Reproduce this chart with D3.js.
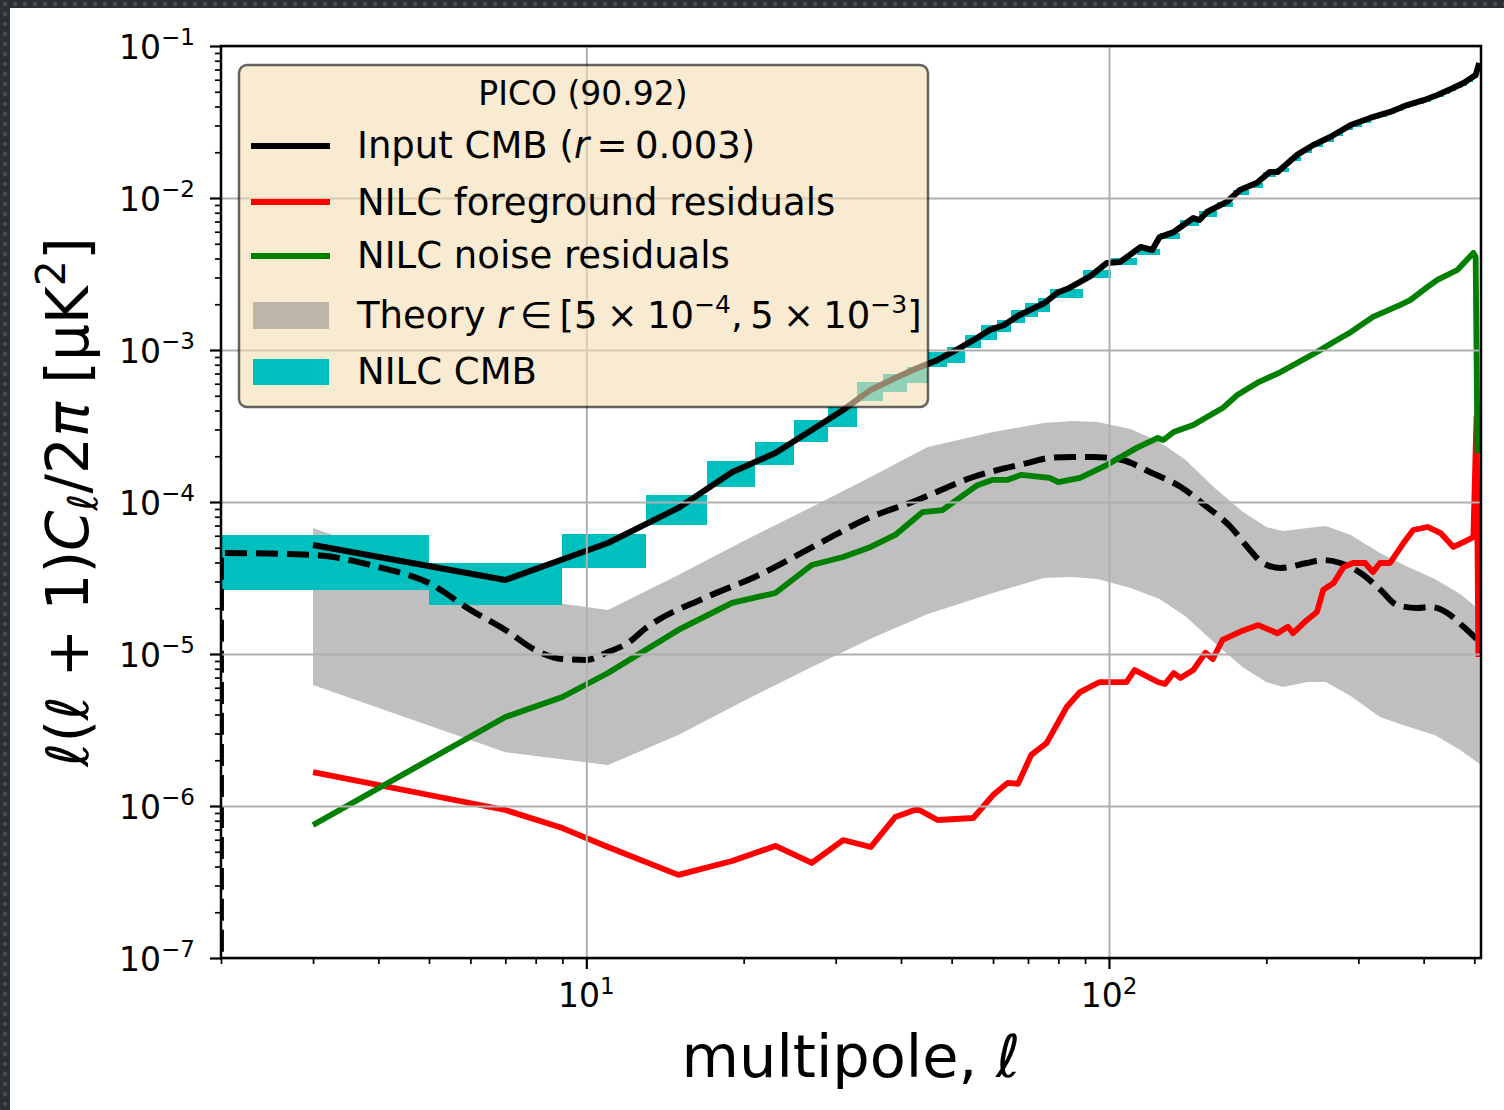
<!DOCTYPE html>
<html><head><meta charset="utf-8">
<script src="https://cdn.jsdelivr.net/npm/d3@7"></script>
<style>
html,body{margin:0;padding:0;background:#fff;}
svg{display:block;}
text{font-family:"DejaVu Sans",sans-serif;white-space:pre;}
</style></head><body>
<svg id="chart" width="1504" height="1110"></svg>
<script>
// ---------------- data ----------------
const cmbInputEll = [3,7,11,15,19,23,27,31,35,39,43,47,51,55,59,63,67,71,75,80,84,92,99,105,115,121,125,133,145,149,154,168,178,192,203,210,229,246,265,290,316,345,372,400,425,450,477,503,511];
const cmbInputVal = [5.21e-5,3.07e-5,5.37e-5,9.14e-5,1.57e-4,2.10e-4,2.98e-4,4.03e-4,5.46e-4,6.55e-4,7.6e-4,8.6e-4,1.0e-3,1.16e-3,1.35e-3,1.46e-3,1.68e-3,1.85e-3,2.02e-3,2.40e-3,2.56e-3,3.05e-3,3.73e-3,3.79e-3,4.76e-3,4.55e-3,5.53e-3,5.97e-3,7.38e-3,7.16e-3,8.09e-3,9.42e-3,1.13e-2,1.26e-2,1.48e-2,1.48e-2,1.92e-2,2.23e-2,2.52e-2,3.02e-2,3.36e-2,3.68e-2,4.09e-2,4.40e-2,4.76e-2,5.2e-2,5.71e-2,6.44e-2,7.73e-2];

const nilcEdges = [2,5,9,13,17,21,25,29,33,37,41,45,49,53,57,61,65,69,73,77,89,101,113,125,137,149,161,173,185,197,209,221,233,245,257,269,281,293,305,317,329,341,353,365,377,389,401,413,425,437,449,461,473,485,497,509];
const nilcLo = [2.64e-5,2.10e-5,3.68e-5,7.06e-5,1.26e-4,1.75e-4,2.48e-4,3.11e-4,4.61e-4,5.30e-4,6.07e-4,7.73e-4,8.2e-4,1.03e-3,1.16e-3,1.31e-3,1.51e-3,1.65e-3,1.78e-3,
  2.20e-3,2.97e-3,3.62e-3,4.21e-3,5.37e-3,6.54e-3,7.49e-3,8.70e-3,1.045e-2,1.161e-2,1.372e-2,1.480e-2,1.750e-2,1.975e-2,2.163e-2,2.332e-2,2.555e-2,2.798e-2,2.928e-2,3.110e-2,3.300e-2,3.400e-2,3.560e-2,3.725e-2,3.900e-2,4.020e-2,4.145e-2,4.270e-2,4.47e-2,4.60e-2,4.82e-2,5.04e-2,5.28e-2,5.44e-2,5.79e-2,6.14e-2];
const nilcHi = [6.07e-5,3.97e-5,6.15e-5,1.11e-4,1.86e-4,2.48e-4,3.46e-4,4.22e-4,6.15e-4,6.95e-4,7.73e-4,9.70e-4,1.05e-3,1.26e-3,1.46e-3,1.57e-3,1.83e-3,2.04e-3,2.20e-3,
  2.52e-3,3.36e-3,4.03e-3,4.60e-3,5.88e-3,7.17e-3,8.21e-3,9.41e-3,1.129e-2,1.255e-2,1.483e-2,1.575e-2,1.861e-2,2.101e-2,2.301e-2,2.481e-2,2.718e-2,2.977e-2,3.115e-2,3.309e-2,3.463e-2,3.569e-2,3.736e-2,3.909e-2,4.091e-2,4.217e-2,4.347e-2,4.480e-2,4.69e-2,4.83e-2,5.056e-2,5.29e-2,5.54e-2,5.71e-2,6.07e-2,6.44e-2];

const bandEll = [3,7,11,15,20,27,35,45,60,75,85,95,110,125,140,160,180,200,215,240,260,290,330,370,420,470,512];
const bandHi = [6.75e-5,2.41e-5,1.95e-5,3.31e-5,5.54e-5,9.27e-5,1.46e-4,2.30e-4,2.89e-4,3.31e-4,3.41e-4,3.36e-4,3.02e-4,2.48e-4,1.90e-4,1.22e-4,8.66e-5,6.85e-5,6.44e-5,6.75e-5,6.95e-5,6.07e-5,4.62e-5,3.79e-5,3.11e-5,2.48e-5,1.95e-5];
const bandLo = [6.25e-6,2.26e-6,1.86e-6,2.93e-6,4.91e-6,8.21e-6,1.26e-5,1.83e-5,2.52e-5,3.16e-5,3.21e-5,3.11e-5,2.72e-5,2.30e-5,1.77e-5,1.17e-5,8.21e-6,6.54e-6,6.07e-6,6.54e-6,6.54e-6,5.29e-6,3.85e-6,3.36e-6,2.93e-6,2.34e-6,1.89e-6];

const theoryEll = [1.999,2,3,4,5,6,7,8,9,10,11,12,13,17,21,28,34,43,55,70,77,85,93,106,120,137,154,171,184,197,213,239,257,277,303,331,356,389,412,444,477,507];
const theoryVal = [1e-9,4.62e-5,4.48e-5,3.73e-5,2.93e-5,1.95e-5,1.44e-5,1.06e-5,9.27e-6,9.14e-6,1.03e-5,1.18e-5,1.48e-5,2.37e-5,3.21e-5,5.37e-5,7.62e-5,1.03e-4,1.46e-4,1.81e-4,1.95e-4,1.98e-4,1.98e-4,1.89e-4,1.57e-4,1.26e-4,9.27e-5,6.85e-5,5.06e-5,3.97e-5,3.68e-5,3.97e-5,4.15e-5,3.97e-5,3.41e-5,2.64e-5,2.10e-5,2.01e-5,2.04e-5,1.86e-5,1.51e-5,1.24e-5];

const fgResEll = [3,7,9,11,15,19,23,27,31,35,39,43,47,55,60,64,67,71,76,81,83,88,96,108,112,124,128,133,137,145,153,158,165,178,193,210,220,225,239,250,257,269,281,293,309,320,330,345,366,382,407,431,456,477,498,503,505,509];
const fgResVal = [1.67e-6,9.41e-7,7.16e-7,5.37e-7,3.52e-7,4.35e-7,5.46e-7,4.22e-7,5.97e-7,5.37e-7,8.47e-7,9.55e-7,8.09e-7,8.34e-7,1.18e-6,1.42e-6,1.40e-6,2.17e-6,2.60e-6,3.85e-6,4.48e-6,5.62e-6,6.54e-6,6.54e-6,7.85e-6,6.54e-6,6.35e-6,7.50e-6,6.95e-6,7.85e-6,1.02e-5,9.27e-6,1.24e-5,1.40e-5,1.55e-5,1.37e-5,1.51e-5,1.37e-5,1.67e-5,1.89e-5,2.64e-5,2.93e-5,3.73e-5,3.97e-5,3.97e-5,3.46e-5,3.97e-5,3.97e-5,5.37e-5,6.54e-5,6.85e-5,6.25e-5,5.06e-5,5.45e-5,5.88e-5,2.20e-4,3.62e-4,9.55e-6];

const noiseResEll = [3,7,9,11,15,19,23,27,31,35,39,44,48,56,60,64,68,77,80,88,99,113,124,127,133,145,154,165,176,192,213,229,250,269,290,320,361,377,407,425,464,498,503,507];
const noiseResVal = [7.50e-7,3.85e-6,5.21e-6,7.50e-6,1.44e-5,2.17e-5,2.52e-5,3.85e-5,4.35e-5,5.06e-5,6.07e-5,8.59e-5,8.85e-5,1.29e-4,1.40e-4,1.40e-4,1.51e-4,1.44e-4,1.35e-4,1.44e-4,1.75e-4,2.27e-4,2.64e-4,2.56e-4,2.89e-4,3.21e-4,3.62e-4,4.15e-4,5.06e-4,6.07e-4,7.16e-4,8.21e-4,9.70e-4,1.13e-3,1.31e-3,1.65e-3,1.98e-3,2.13e-3,2.60e-3,2.89e-3,3.36e-3,4.35e-3,4.09e-3,2.10e-4];

const xTickExps = [1,2];
const yTickExps = [-7,-6,-5,-4,-3,-2,-1];
const legendTitle = "PICO (90.92)";

// ---------------- layout ----------------
const W = 1504, H = 1110;
const L = 221, R = 1481, T = 46, B = 958;
const svg = d3.select('#chart');
const defs = svg.append('defs');

const pat = defs.append('pattern').attr('id','dots').attr('width',10).attr('height',10).attr('patternUnits','userSpaceOnUse');
pat.append('rect').attr('width',10).attr('height',10).attr('fill','#2c3034');
pat.append('circle').attr('cx',5).attr('cy',4).attr('r',2.3).attr('fill','#474b50');
svg.append('rect').attr('width',W).attr('height',H).attr('fill','url(#dots)');
svg.append('rect').attr('x',10).attr('y',8).attr('width',W-10).attr('height',H-8).attr('fill','#fff');

defs.append('clipPath').attr('id','plotclip').append('rect')
  .attr('x',L).attr('y',T).attr('width',R-L).attr('height',B-T);

const x = d3.scaleLog().domain([2,515]).range([L,R]);
const y = d3.scaleLog().domain([1e-7,1e-1]).range([B,T]);

const plot = svg.append('g').attr('clip-path','url(#plotclip)');

// theory band
const band = bandEll.map((l,i)=>({l, lo:bandLo[i], hi:bandHi[i]}));
plot.append('path').datum(band)
  .attr('d', d3.area().x(d=>x(d.l)).y0(d=>y(d.lo)).y1(d=>y(d.hi)))
  .attr('fill','grey').attr('fill-opacity',0.5).attr('stroke','none');

// NILC CMB bins
const bins = nilcLo.map((lo,i)=>({l0:nilcEdges[i], l1:nilcEdges[i+1], lo, hi:nilcHi[i]}));
plot.selectAll('rect.bin').data(bins).enter().append('rect').attr('class','bin')
  .attr('x',d=>x(d.l0)).attr('width',d=>x(d.l1)-x(d.l0))
  .attr('y',d=>y(d.hi)).attr('height',d=>y(d.lo)-y(d.hi))
  .attr('fill','#00bfbf').attr('shape-rendering','crispEdges');

// grid
const xMajor = xTickExps.map(e=>Math.pow(10,e));
const yMajor = yTickExps.map(e=>Math.pow(10,e));
const grid = svg.append('g');
grid.append('g').attr('transform',`translate(0,${B})`)
  .call(d3.axisBottom(x).tickValues(xMajor).tickSize(-(B-T)).tickFormat(''))
  .call(g=>{g.select('.domain').remove(); g.selectAll('line').attr('stroke','#b0b0b0').attr('stroke-width',2);});
grid.append('g').attr('transform',`translate(${L},0)`)
  .call(d3.axisLeft(y).tickValues(yMajor).tickSize(-(R-L)).tickFormat(''))
  .call(g=>{g.select('.domain').remove(); g.selectAll('line').attr('stroke','#b0b0b0').attr('stroke-width',2);});

// lines
const line = d3.line().x(d=>x(d[0])).y(d=>y(d[1]));
const zip = (a,b)=>a.map((v,i)=>[v,b[i]]);
plot.append('path').datum(zip(theoryEll,theoryVal))
  .attr('d', d3.line().x(d=>x(d[0])).y(d=>y(d[1])).curve(d3.curveMonotoneX))
  .attr('fill','none').attr('stroke','#000').attr('stroke-width',6).attr('stroke-dasharray','22,9');
plot.append('path').datum(zip(cmbInputEll,cmbInputVal)).attr('d',line)
  .attr('fill','none').attr('stroke','#000').attr('stroke-width',6).attr('stroke-linejoin','round');
plot.append('path').datum(zip(fgResEll,fgResVal)).attr('d',line)
  .attr('fill','none').attr('stroke','#ff0000').attr('stroke-width',5.8).attr('stroke-linejoin','round');
plot.append('path').datum(zip(noiseResEll,noiseResVal)).attr('d',line)
  .attr('fill','none').attr('stroke','#008000').attr('stroke-width',5.8).attr('stroke-linejoin','round');

// ticks
const xMinor = [], yMinor = [];
[1,10,100].forEach(d=>{for(let k=2;k<=9;k++){const v=k*d; if(v>=2&&v<=515) xMinor.push(v);}});
[1e-7,1e-6,1e-5,1e-4,1e-3,1e-2].forEach(d=>{for(let k=2;k<=9;k++) yMinor.push(k*d);});
const axes = svg.append('g');
function styleTicks(g,w){g.select('.domain').remove(); g.selectAll('line').attr('stroke','#000').attr('stroke-width',w); g.selectAll('text').remove();}
axes.append('g').attr('transform',`translate(0,${B})`).call(d3.axisBottom(x).tickValues(xMajor).tickSize(11)).call(g=>styleTicks(g,2.2));
axes.append('g').attr('transform',`translate(0,${B})`).call(d3.axisBottom(x).tickValues(xMinor).tickSize(6)).call(g=>styleTicks(g,1.7));
axes.append('g').attr('transform',`translate(${L},0)`).call(d3.axisLeft(y).tickValues(yMajor).tickSize(11)).call(g=>styleTicks(g,2.2));
axes.append('g').attr('transform',`translate(${L},0)`).call(d3.axisLeft(y).tickValues(yMinor).tickSize(6)).call(g=>styleTicks(g,1.7));

// helper for rich text
function rich(sel, segs){
  segs.forEach(s=>{
    const t = sel.append('tspan').text(s.t);
    if(s.it) t.attr('font-style','italic');
    if(s.sz) t.attr('font-size',s.sz);
    if(s.dy) t.attr('dy',s.dy);
  });
  return sel;
}

// tick labels
yTickExps.forEach(e=>{
  const t = svg.append('text').attr('x',195).attr('y',y(Math.pow(10,e))+13)
    .attr('text-anchor','end').attr('font-size',33).attr('fill','#000');
  rich(t,[{t:'10'},{t:'\u2212'+Math.abs(e),sz:23,dy:-14}]);
});
xTickExps.forEach(e=>{
  const t = svg.append('text').attr('x',x(Math.pow(10,e))).attr('y',1007)
    .attr('text-anchor','middle').attr('font-size',33).attr('fill','#000');
  rich(t,[{t:'10'},{t:String(e),sz:23,dy:-13}]);
});

// axis labels
rich(svg.append('text').attr('x',(L+R)/2).attr('y',1077).attr('text-anchor','middle').attr('font-size',59),
  [{t:'multipole, '},{t:'\u2113',it:true}]);
rich(svg.append('text').attr('transform',`translate(88,${(T+B)/2}) rotate(-90)`).attr('text-anchor','middle').attr('font-size',58),
  [{t:'\u2113',it:true},{t:'('},{t:'\u2113',it:true},{t:' + 1)'},{t:'C',it:true},{t:'\u2113',it:true,sz:41,dy:9},
   {t:'/2',dy:-9},{t:'\u03c0',it:true},{t:' [\u03bcK'},{t:'2',sz:41,dy:-23},{t:']',dy:23}]);

// spines
svg.append('rect').attr('x',L).attr('y',T).attr('width',R-L).attr('height',B-T)
  .attr('fill','none').attr('stroke','#000').attr('stroke-width',2.5);

// legend
const lg = svg.append('g');
lg.append('rect').attr('x',239).attr('y',65).attr('width',689).attr('height',342).attr('rx',8)
  .attr('fill','#f5deb3').attr('fill-opacity',0.6).attr('stroke','#000').attr('stroke-opacity',0.6).attr('stroke-width',2.5);
lg.append('text').attr('x',583).attr('y',105).attr('text-anchor','middle').attr('font-size',33).text(legendTitle);
const entries = [
  {type:'line', color:'#000', cy:146, base:158, segs:[{t:'Input CMB ('},{t:'r',it:true},{t:'\u2009=\u20090.003)'}]},
  {type:'line', color:'#ff0000', cy:202, base:215, segs:[{t:'NILC foreground residuals'}]},
  {type:'line', color:'#008000', cy:256, base:268, segs:[{t:'NILC noise residuals'}]},
  {type:'patch', color:'grey', op:0.5, y0:302, y1:329, base:328, segs:[{t:'Theory '},{t:'r',it:true},{t:'\u2009\u2208\u2009[5\u2005\u00d7\u200510'},{t:'\u22124',sz:25,dy:-15},{t:',\u20095\u2005\u00d7\u200510',dy:15},{t:'\u22123',sz:25,dy:-15},{t:']',dy:15}]},
  {type:'patch', color:'#00bfbf', op:1, y0:359, y1:385, base:384, segs:[{t:'NILC CMB'}]}
];
entries.forEach(e=>{
  if(e.type==='line'){
    lg.append('line').attr('x1',251).attr('x2',330).attr('y1',e.cy).attr('y2',e.cy)
      .attr('stroke',e.color).attr('stroke-width',6);
  } else {
    lg.append('rect').attr('x',253).attr('y',e.y0).attr('width',76).attr('height',e.y1-e.y0)
      .attr('fill',e.color).attr('fill-opacity',e.op);
  }
  rich(lg.append('text').attr('x',357).attr('y',e.base).attr('font-size',37), e.segs);
});
</script>
</body></html>
